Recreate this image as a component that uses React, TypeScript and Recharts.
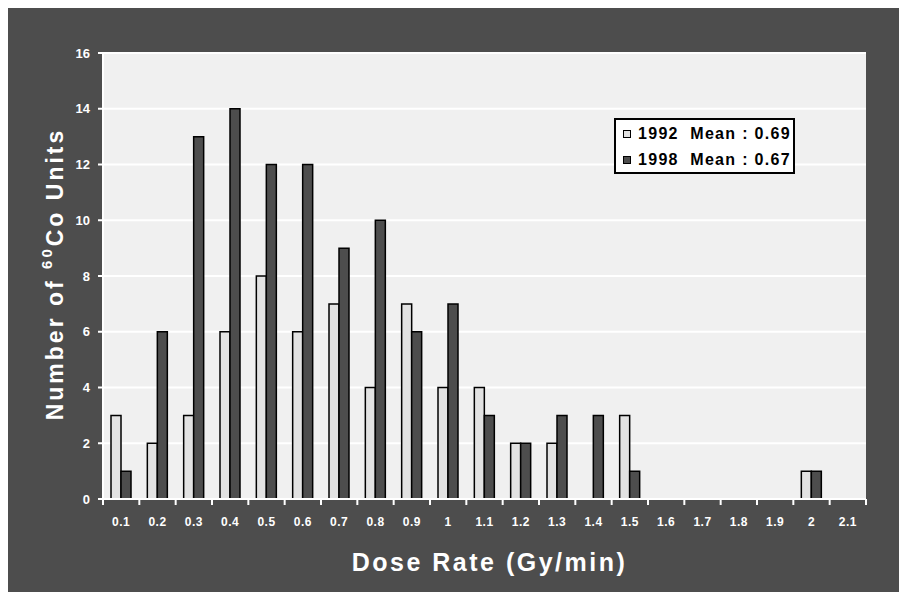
import React from "react";
import {
  BarChart,
  Bar,
  XAxis,
  YAxis,
  CartesianGrid,
  Legend,
  Label,
} from "recharts";

const doseRates = [
  "0.1", "0.2", "0.3", "0.4", "0.5", "0.6", "0.7", "0.8", "0.9", "1", "1.1",
  "1.2", "1.3", "1.4", "1.5", "1.6", "1.7", "1.8", "1.9", "2", "2.1",
];
const units1992 = [3, 2, 3, 6, 8, 6, 7, 4, 7, 4, 4, 2, 2, 0, 3, 0, 0, 0, 0, 1, 0];
const units1998 = [1, 6, 13, 14, 12, 12, 9, 10, 6, 7, 3, 2, 3, 3, 1, 0, 0, 0, 0, 1, 0];
const yTicks = [0, 2, 4, 6, 8, 10, 12, 14, 16];

const data = doseRates.map((rate, i) => ({
  rate,
  y1992: units1992[i],
  y1998: units1998[i],
}));

const FONT = "'Liberation Sans', Arial, sans-serif";
const BG = "#4d4d4d";
const LIGHT = "#e2e2e2";

const XTick = (props: any) => {
  const { x, y, payload, index, visibleTicksCount } = props;
  const half = payload && payload.offset ? payload.offset : 18;
  const last = index === visibleTicksCount - 1;
  return (
    <g>
      <line x1={x - half} y1={y - 8} x2={x - half} y2={y - 2} stroke="#fff" strokeWidth={2} />
      {last && (
        <line x1={x + half} y1={y - 8} x2={x + half} y2={y - 2} stroke="#fff" strokeWidth={2} />
      )}
      <text
        x={x}
        y={y + 19}
        textAnchor="middle"
        fill="#fff"
        fontSize={12}
        fontWeight="bold"
        fontFamily={FONT}
        letterSpacing={0.5}
      >
        {payload.value}
      </text>
    </g>
  );
};

const YLabel = (props: any) => {
  const { viewBox } = props;
  const cx = viewBox.x + 12;
  const cy = viewBox.y + viewBox.height / 2 - 2;
  return (
    <text
      x={cx}
      y={cy}
      transform={`rotate(-90, ${cx}, ${cy})`}
      textAnchor="middle"
      dominantBaseline="central"
      fill="#fff"
      fontSize={23}
      fontWeight="bold"
      fontFamily={FONT}
      letterSpacing={3}
    >
      Number of <tspan fontSize={15} dy={-9}>60</tspan>
      <tspan dy={9}>Co Units</tspan>
    </text>
  );
};

const LegendBox = () => (
  <div
    style={{
      background: "#fff",
      border: "2px solid #000",
      width: 177,
      height: 52,
      boxSizing: "content-box",
      fontFamily: FONT,
      fontWeight: "bold",
      fontSize: 16,
      letterSpacing: 1.3,
      color: "#000",
      padding: 0,
    }}
  >
    {[
      { label: "1992", mean: "0.69", fill: LIGHT },
      { label: "1998", mean: "0.67", fill: BG },
    ].map((it, i) => (
      <div
        key={it.label}
        style={{
          display: "flex",
          alignItems: "center",
          height: 26,
          marginTop: i === 0 ? 1 : 0,
          paddingLeft: 7,
          whiteSpace: "pre",
        }}
      >
        <span
          style={{
            display: "inline-block",
            width: 6,
            height: 6,
            background: it.fill,
            border: "1.5px solid #000",
            marginRight: 7,
          }}
        />
        {`${it.label}  Mean : ${it.mean}`}
      </div>
    ))}
  </div>
);

export default function App() {
  return (
    <div style={{ position: "relative", left: -3, width: 902, height: 584, background: BG }}>
      <BarChart
        width={902}
        height={584}
        data={data}
        margin={{ top: 45, right: 41, left: 38, bottom: 63 }}
        barSize={10}
        barGap={0}
        style={{ background: BG }}
      >
        <CartesianGrid
          vertical={false}
          fill="#f0f0f0"
          stroke="#fff"
          strokeWidth={2}
          fillOpacity={1}
        />
        <XAxis
          dataKey="rate"
          interval={0}
          axisLine={{ stroke: "#fff", strokeWidth: 2 }}
          tickLine={false}
          tick={<XTick />}
          height={30}
        >
          <Label
            value="Dose Rate (Gy/min)"
            position="insideBottom"
            offset={-42}
            dx={5}
            fill="#fff"
            fontSize={25}
            fontWeight="bold"
            fontFamily={FONT}
            letterSpacing={2.5}
          />
        </XAxis>
        <XAxis
          xAxisId="top"
          orientation="top"
          dataKey="rate"
          height={0}
          tick={false}
          tickLine={false}
          axisLine={{ stroke: "#858585", strokeWidth: 3 }}
        />
        <YAxis
          domain={[0, 16]}
          ticks={yTicks}
          interval={0}
          width={60}
          axisLine={{ stroke: "#fff", strokeWidth: 2 }}
          tickLine={{ stroke: "#fff", strokeWidth: 2 }}
          tickSize={5}
          tickMargin={8}
          tick={{ fill: "#fff", fontSize: 13, fontWeight: "bold", fontFamily: FONT }}
          label={<YLabel />}
        />
        <YAxis
          yAxisId="right"
          orientation="right"
          domain={[0, 16]}
          width={0}
          tick={false}
          tickLine={false}
          axisLine={{ stroke: "#858585", strokeWidth: 3 }}
        />
        <Legend
          content={<LegendBox />}
          layout="horizontal"
          verticalAlign="middle"
          align="center"
          wrapperStyle={{ top: 110, left: 609, width: 181 }}
        />
        <Bar
          dataKey="y1992"
          name="1992"
          fill={LIGHT}
          stroke="#000"
          strokeWidth={1.5}
          isAnimationActive={false}
        />
        <Bar
          dataKey="y1998"
          name="1998"
          fill={BG}
          stroke="#000"
          strokeWidth={1.5}
          isAnimationActive={false}
        />
      </BarChart>
    </div>
  );
}
